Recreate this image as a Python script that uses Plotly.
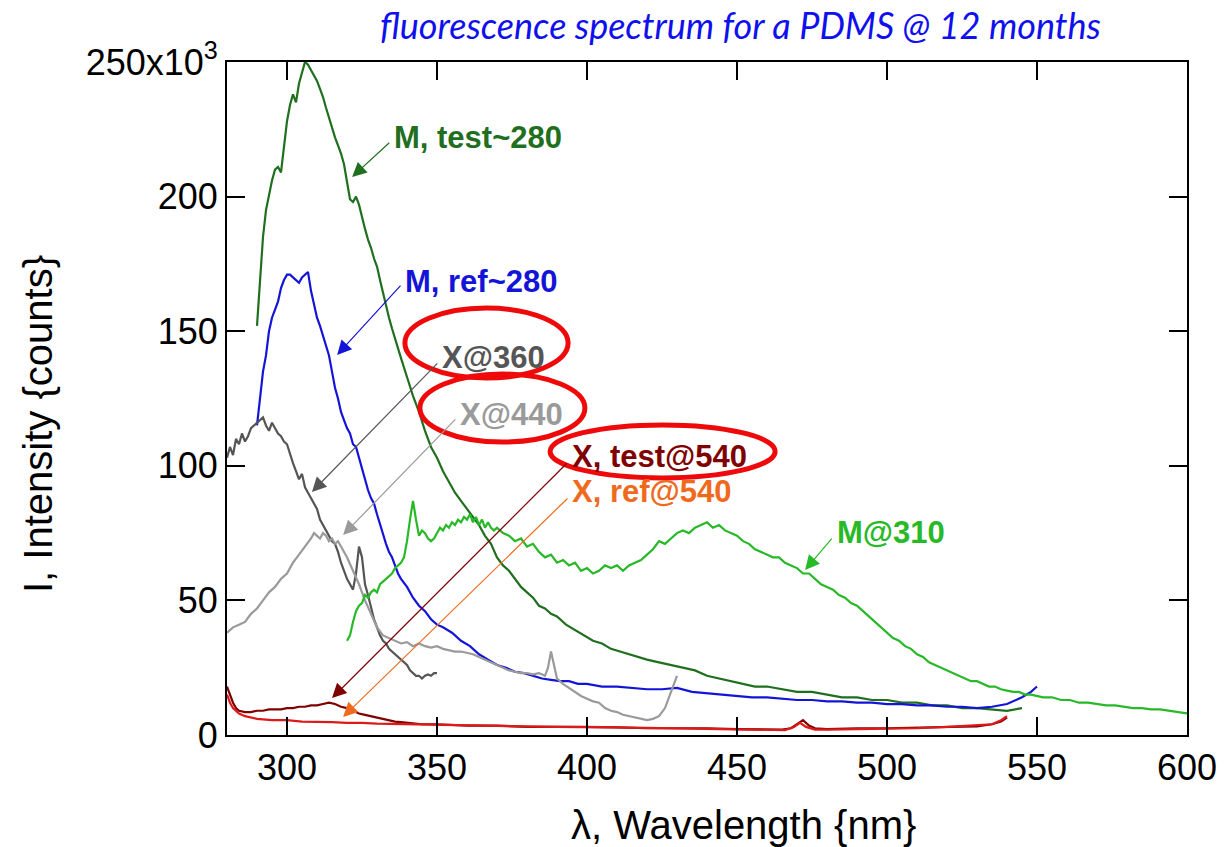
import plotly.graph_objects as go

# ---------------- data (intensity in thousands of counts) ----------------
m_test_x = [290,291,292,293,294,295,296,297,298,299,300,301,302,303,304,305,306,307,308,309,310,311,312,313,314,315,316,317,318,319,320,321,322,323,324,325,326,327,328,329,330,331,332,333,334,335,336,337,338,340,342,344,346,348,350,352,354,356,358,360,362,364,366,368,370,372,374,376,378,380,382,384,386,388,390,393,396,399,402,405,408,411,414,417,420,424,428,432,436,440,444,448,452,456,460,465,470,475,480,485,490,495,500,505,510,515,520,525,530,535,540,545]
m_test_y = [152,170,185,195,201,206,210,211,209,218,228,234,238,235,242,246,250,249,247,245,243,240,237,233,229,225,222,219,216,212,205,199,198,200,197,192,188,184,181,177,174,169,164,159,155,151,147,144,140,133,126,120,113,107,103,98,94,90,87,84,81,78,74,71,66,63,61,58,55,53,51,48,47,45,44,41,39,37,35,34,32,31,30,29,28,27,26,25,24,22,21,20,19,18,18,17,16,16,15,14,14,13,13,12,12,11,11,10,10,9.5,9,10]

m_ref_x = [290,291,292,293,294,295,296,297,298,299,300,301,302,303,304,305,306,307,308,309,310,311,312,313,314,315,316,317,318,319,320,321,322,323,324,325,326,327,328,329,330,331,332,333,334,335,336,337,338,340,342,344,346,348,350,352,355,358,361,364,367,370,373,376,379,382,385,388,391,394,397,400,405,410,415,420,425,430,435,440,445,450,455,460,465,470,475,480,485,490,495,500,505,510,515,520,525,530,535,540,545,548,550]
m_ref_y = [115,125,135,141,150,155,158,161,166,169,171,171,170,169,168,170,171,172,165,160,155,152,148,144,141,135,129,125,120,117,114,112,108,107,103,98,94,91,88,86,82,78,74,71,68,66,63,60,58,55,51,48,46,43,41,40,38,35,33,30,28,26,25,23.5,23,22,21,20.5,20,20,19,19,18,18,17.5,17,17,17.5,16,15.5,15,14.5,14,14,13.5,13,13,12.5,12.5,12,12,11.5,11.5,11,11,10.5,10.5,10,10.5,11.5,14,16,18]

x360_x = [280,281,282,283,284,285,286,287,288,289,290,291,292,293,294,295,296,297,298,299,300,301,302,303,304,305,306,307,308,309,310,311,312,313,314,315,316,317,318,319,320,321,322,323,324,325,326,327,328,329,330,331,332,333,334,335,336,337,338,339,340,341,342,343,344,345,346,347,348,349,350]
x360_y = [103,107,104,110,108,112,109,111,114,115,116,117,118,115,113,116,114,112,111,109,108,104,101,98,95,97,92,90,88,86,84,80,78,76,74,72,71,68,64,61,58,56,54,60,70,66,56,52,47,43,40,37,35,34,32,31,30,29,28,27,26,24,23,22,22,21,22,22.5,22,23,23]

x440_x = [280,282,284,286,288,289,290,292,294,296,298,300,302,304,306,308,309,310,311,312,313,314,315,316,317,318,320,322,324,326,328,330,332,334,336,338,340,342,344,346,348,350,352,354,356,358,360,362,364,366,368,370,372,374,376,378,380,382,384,386,387,388,389,390,392,394,396,398,400,402,404,406,408,410,412,414,416,418,420,422,424,426,428,430]
x440_y = [38,40,41,42,45,46,47,50,53,55,58,60,64,67,70,73,75,74,73,75,74,72,73,71,72,70,66,61,56,50,45,40,37,36,35,34,34.5,33,34,33,32.5,33,32,31.5,31,31,30.5,30,29,28,27,26,25,24,23.5,23,23,22.5,23,22,25,31,26,21,19,17.5,16,14.5,13.5,12.5,12,10,9,8.5,7.5,7,6.5,6,5.5,6,7,10,16,22]

m310_x = [320,321,322,323,324,325,326,327,328,329,330,331,332,333,334,335,336,337,338,339,340,341,342,343,344,345,346,347,348,349,350,351,352,353,354,355,356,357,358,359,360,361,362,363,364,365,366,367,368,369,370,372,374,376,378,380,382,384,386,388,390,392,394,396,398,400,402,404,406,408,410,412,414,416,418,420,422,424,426,428,430,432,434,436,438,440,442,444,446,448,450,452,454,456,458,460,462,464,466,468,470,472,474,476,478,480,482,484,486,488,490,492,494,496,498,500,502,504,506,508,510,512,514,516,518,520,522,524,526,528,530,532,534,536,538,540,542,544,546,548,550,552,555,558,561,564,567,570,573,576,579,582,585,588,591,594,597,600]
m310_y = [35,37,42,46,48,49,52,51,53,54,53,56,57,58,59,60,62,63,64,66,72,80,87,80,74,76,75,73,72,73,75,77,76,78,77,79,78,80,79,81,80,82,79,81,78,80,77,79,77,76,77,75,74,72,73,70,71,68,66,67,64,65,63,64,61,62,60,61,63,62,63,61,63,64,65,67,69,72,71,73,75,76,75,77,78,79,77,78,76,75,74,72,71,69,68,67,66,66,64,63,62,60,60,58,56,55,54,52,51,49,48,46,44,42,40,38,36,35,33,32,30,29,27,26,25,24,23,22,21,20,20,19,18,18,17,16.5,16,16,15,15,14.5,14,14,13,13,12,12,11.5,11,11,10.5,10,10,9.5,9.5,9,8.5,8]

xt540_x = [280,281,282,283,284,286,288,290,292,294,296,298,300,302,304,306,308,310,312,314,316,318,320,322,324,326,328,330,332,334,336,338,340,345,350,360,370,380,390,400,410,420,430,440,450,460,465,468,470,472,474,476,480,490,500,510,520,530,535,538,540]
xt540_y = [18,15,12,10,9,8.5,8.5,9,9,9.5,9.5,9.5,10,10,10.5,10.5,11,11,11.5,12,11.5,10.5,10,9,8,7.5,7,6.5,6,5.5,5,4.8,4.5,4,4,3.5,3.5,3,3,3,2.8,2.5,2.5,2.5,2.2,2,2,2.5,4,5.5,3.5,2.5,2.2,2.5,2.5,2.8,3,3.2,4,5,6.5]

xr540_x = [280,281,282,284,286,288,290,295,300,305,310,315,320,325,330,340,350,360,370,380,390,400,410,420,430,440,450,460,466,469,471,473,476,480,490,500,510,520,530,535,538,540]
xr540_y = [15,12,10,8,7,6.5,6,5.5,5.5,5,5,4.8,4.5,4.5,4.2,4,3.8,3.5,3.3,3.2,3,3,2.8,2.6,2.5,2.3,2,1.8,1.8,3,4.5,3,2,2,2.2,2.5,2.5,3,3.5,4,5.5,7]

y_tickvals = [0, 50, 100, 150, 200, 250]
y_ticktext = ["0", "50", "100", "150", "200", "250x10<sup>3</sup>"]
x_tickvals = [300, 350, 400, 450, 500, 550, 600]

C_MTEST = "#1f6f1f"
C_MREF = "#1414d8"
C_X360 = "#555555"
C_X440 = "#9a9a9a"
C_XT540 = "#800000"
C_XR540 = "#dd1a1a"
C_XR540_TXT = "#f06a1e"
C_M310 = "#27b927"

series = [
    (m_test_x, m_test_y, C_MTEST, "M, test~280"),
    (m_ref_x, m_ref_y, C_MREF, "M, ref~280"),
    (x360_x, x360_y, C_X360, "X@360"),
    (x440_x, x440_y, C_X440, "X@440"),
    (m310_x, m310_y, C_M310, "M@310"),
    (xt540_x, xt540_y, C_XT540, "X, test@540"),
    (xr540_x, xr540_y, C_XR540, "X, ref@540"),
]

fig = go.Figure()
for xs, ys, col, name in series:
    fig.add_trace(go.Scatter(x=xs, y=ys, mode="lines", name=name,
                             line=dict(color=col, width=2.2)))

# labels: (text, text_x, text_y, tail_x, tail_y, head_x, head_y, color)
labels = [
    ("M, test~280", 335.0, 221.8, 334.6, 220.5, 321.7, 207.3, C_MTEST),
    ("M, ref~280", 338.7, 168.3, 338.3, 167.5, 316.7, 141.2, C_MREF),
    ("X@360", 351.0, 140.4, 350.6, 138.6, 308.3, 90.3, C_X360),
    ("X@440", 357.0, 119.2, 356.6, 117.8, 318.7, 74.3, C_X440),
    ("X, test@540", 394.3, 103.3, 393.7, 101.4, 315.0, 13.7, C_XT540),
    ("X, ref@540", 394.3, 90.3, 394.0, 88.4, 318.7, 6.7, C_XR540_TXT),
    ("M@310", 482.7, 75.4, 482.0, 73.5, 472.7, 61.3, C_M310),
]
for text, tx, ty, axx, ayy, hx, hy, col in labels:
    fig.add_annotation(x=hx, y=hy, ax=axx, ay=ayy, xref="x", yref="y",
                       axref="x", ayref="y", text="", showarrow=True,
                       arrowhead=2, arrowsize=2.4, arrowwidth=1.2,
                       arrowcolor=col)
    fig.add_annotation(x=tx, y=ty, xref="x", yref="y", text="<b>" + text + "</b>",
                       showarrow=False, xanchor="left", yanchor="middle",
                       font=dict(family="Liberation Sans, Arial", size=31, color=col))

# red highlight ellipses
ellipses = [
    (339.3, 132.6, 393.7, 158.6),
    (344.3, 108.8, 399.3, 134.1),
    (387.7, 95.5, 462.7, 115.2),
]
for x0, y0, x1, y1 in ellipses:
    fig.add_shape(type="circle", xref="x", yref="y", x0=x0, y0=y0, x1=x1, y1=y1,
                  line=dict(color="#ee0a0a", width=5), layer="above")

PW, PH = 1228 - 227 - 41, 847 - 62 - 112

fig.add_annotation(x=(740 - 227) / PW, y=1 + (62 - 25) / PH,
                   xref="paper", yref="paper",
                   text="<i>fluorescence spectrum for a PDMS @ 12 months</i>",
                   showarrow=False, xanchor="center", yanchor="middle",
                   font=dict(family="Lato", size=36, color="#1010ee"))

# axis titles
fig.add_annotation(x=(743 - 227) / PW, y=-(825 - 735) / PH, xref="paper", yref="paper",
                   text="λ, Wavelength {nm}", showarrow=False,
                   xanchor="center", yanchor="middle",
                   font=dict(family="Liberation Sans, Arial", size=40, color="black"))
fig.add_annotation(x=-(227 - 38) / PW, y=(735 - 424) / PH, xref="paper", yref="paper",
                   text="I, Intensity {counts}", showarrow=False, textangle=-90,
                   xanchor="center", yanchor="middle",
                   font=dict(family="Liberation Sans, Arial", size=40, color="black"))

axis_common = dict(showline=True, linecolor="black", linewidth=2, mirror="ticks",
                   ticks="inside", ticklen=18, tickwidth=2, tickcolor="black",
                   showgrid=False, zeroline=False,
                   tickfont=dict(family="Liberation Sans, Arial", size=36, color="black"))

fig.update_layout(
    width=1228, height=847,
    margin=dict(l=227, r=41, t=62, b=112),
    paper_bgcolor="white", plot_bgcolor="white",
    showlegend=False,
    xaxis=dict(range=[280, 600], tickvals=x_tickvals, **axis_common),
    yaxis=dict(range=[0, 250], tickvals=y_tickvals, ticktext=y_ticktext, **axis_common),
)

fig.write_html("out.html")
